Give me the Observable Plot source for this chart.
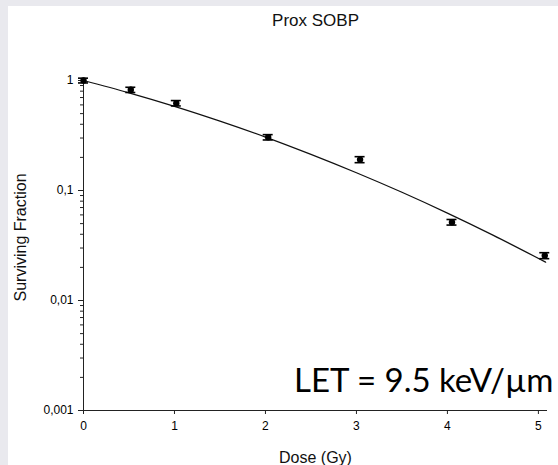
<!DOCTYPE html>
<html>
<head>
<meta charset="utf-8">
<script src="https://cdn.jsdelivr.net/npm/d3@7"></script>
<script src="https://cdn.jsdelivr.net/npm/@observablehq/plot@0.6"></script>
<style>
  html, body { margin: 0; padding: 0; background: #e9e9ee; }
  #wrap { width: 558px; height: 465px; box-sizing: border-box; padding: 6px 0 0 8px; overflow: hidden; }
  #chart svg { display: block; background: #ffffff; }
</style>
</head>
<body>
<div id="wrap"><div id="chart"></div></div>
<script>
// Clonogenic survival, proximal SOBP position
const doses = [0, 0.52, 1.02, 2.03, 3.04, 4.05, 5.07];
const survival = [1, 0.823, 0.622, 0.305, 0.191, 0.0515, 0.0256];
const survivalErr = [0.05, 0.045, 0.035, 0.017, 0.012, 0.003, 0.0016];

// Fitted survival curve, sampled along the drawn line
const fitDose = [0, 0.5, 1, 1.5, 2, 2.5, 3, 3.5, 4, 4.5, 5.08];
const fitSurvival = [1, 0.772, 0.582, 0.427, 0.306, 0.213, 0.145, 0.0963, 0.0623, 0.0393, 0.0223];

const xTicks = [0, 1, 2, 3, 4, 5];
const yMajor = [1, 0.1, 0.01, 0.001];
const yMajorLabels = ["1", "0,1", "0,01", "0,001"];
const yMinor = [0.9, 0.8, 0.7, 0.6, 0.5, 0.4, 0.3, 0.2,
                0.09, 0.08, 0.07, 0.06, 0.05, 0.04, 0.03, 0.02,
                0.009, 0.008, 0.007, 0.006, 0.005, 0.004, 0.003, 0.002];

const titleText = "Prox SOBP";
const xLabel = "Dose (Gy)";
const yLabel = "Surviving Fraction";
const annotation = "LET = 9.5 keV/\u00B5m";

const points = doses.map((d, i) => ({dose: d, sf: survival[i], err: survivalErr[i]}));
const fit = fitDose.map((d, i) => ({dose: d, sf: fitSurvival[i]}));

const font = "'Liberation Sans', Arial, sans-serif";

const chart = Plot.plot({
  width: 550,
  height: 459,
  marginLeft: 75,
  marginRight: 11,
  marginTop: 74,
  marginBottom: 55,
  style: {fontFamily: font, color: "#000", background: "#fff"},
  x: {domain: [0, 5.1]},
  y: {type: "log", domain: [0.001, 1]},
  marks: [
    // axis lines
    Plot.ruleX([0], {stroke: "#222", strokeWidth: 1}),
    Plot.ruleY([0.001], {stroke: "#222", strokeWidth: 1, insetLeft: -3}),
    // y axis: minor then major ticks
    Plot.axisY(yMinor, {tickSize: 3, tickFormat: () => "", stroke: "#222", label: null}),
    Plot.axisY(yMajor, {
      tickSize: 5, tickPadding: 5, fontSize: 12, stroke: "#222", label: null,
      tickFormat: d => yMajorLabels[yMajor.indexOf(d)]
    }),
    Plot.axisX(xTicks, {tickSize: 4, tickPadding: 7, fontSize: 12, stroke: "#222", label: null}),
    // fitted curve
    Plot.line(fit, {x: "dose", y: "sf", curve: "monotone-x", stroke: "#111", strokeWidth: 1.2}),
    // error bars with caps
    Plot.ruleX(points, {x: "dose", y1: d => d.sf - d.err, y2: d => d.sf + d.err, stroke: "#000", strokeWidth: 1.5}),
    Plot.ruleY(points, {y: d => d.sf + d.err, x1: "dose", x2: "dose", insetLeft: -5, insetRight: -5, stroke: "#000", strokeWidth: 1.6}),
    Plot.ruleY(points, {y: d => d.sf - d.err, x1: "dose", x2: "dose", insetLeft: -5, insetRight: -5, stroke: "#000", strokeWidth: 1.6}),
    Plot.dot(points, {x: "dose", y: "sf", r: 3.2, fill: "#000", stroke: "none"}),
    // titles
    Plot.text([titleText], {frameAnchor: "top", dy: -60, lineAnchor: "middle", fontSize: 17, fill: "#111"}),
    Plot.text([xLabel], {frameAnchor: "bottom", dy: 47, lineAnchor: "middle", fontSize: 16, fill: "#111"}),
    Plot.text([yLabel], {frameAnchor: "left", textAnchor: "middle", dx: -63, dy: -8, rotate: -90, lineAnchor: "middle", fontSize: 16, fill: "#111"}),
    Plot.text([annotation], {
      frameAnchor: "bottom-right", textAnchor: "end", lineAnchor: "bottom",
      dx: 6, dy: -19, fontSize: 33, fontFamily: "Lato, 'Open Sans', sans-serif", fill: "#000"
    })
  ]
});

document.getElementById("chart").appendChild(chart);
</script>
</body>
</html>
